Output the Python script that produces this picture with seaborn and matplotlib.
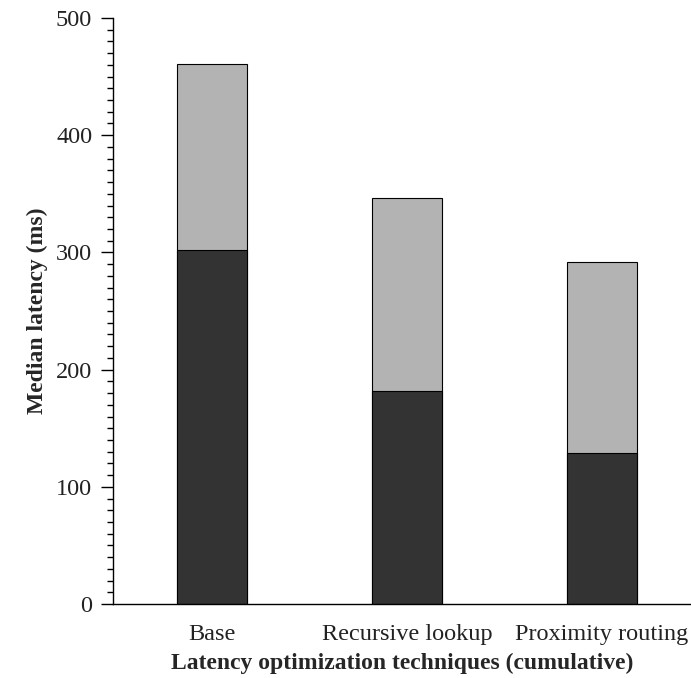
import matplotlib
matplotlib.use("Agg")
import matplotlib.pyplot as plt
from matplotlib.ticker import MultipleLocator
import seaborn as sns
import pandas as pd

categories = ["Base", "Recursive lookup", "Proximity routing"]
lower_values = [302, 182, 129]
total_values = [461, 346, 292]
y_ticks = [0, 100, 200, 300, 400, 500]

sns.set_theme(style="ticks")
plt.rcParams["font.family"] = ["Liberation Serif", "DejaVu Serif"]

df = pd.DataFrame({"technique": categories, "lower": lower_values, "total": total_values})

fig = plt.figure(figsize=(6.91, 6.78), dpi=100)
ax = fig.add_axes([0.1635, 0.109, 0.8365, 0.8645])

sns.barplot(data=df, x="technique", y="total", color="#b3b3b3", width=0.36,
            edgecolor="black", linewidth=0.8, saturation=1, ax=ax)
sns.barplot(data=df, x="technique", y="lower", color="#333333", width=0.36,
            edgecolor="black", linewidth=0.8, saturation=1, ax=ax)

ax.set_xlim(-0.508, 2.456)
ax.set_ylim(0, 500)
ax.set_yticks(y_ticks)
ax.yaxis.set_minor_locator(MultipleLocator(10))
ax.tick_params(axis="y", which="major", length=9, width=1, labelsize=17.5, pad=6, color="black")
ax.tick_params(axis="y", which="minor", length=4.5, width=1, color="black")
ax.tick_params(axis="x", length=0, labelsize=17.5, pad=14)
for lab in ax.get_yticklabels() + ax.get_xticklabels():
    lab.set_color("#222222")

sns.despine(ax=ax)
ax.spines["left"].set_linewidth(1)
ax.spines["bottom"].set_linewidth(1)
ax.spines["left"].set_color("black")
ax.spines["bottom"].set_color("black")

ax.set_ylabel("Median latency (ms)", fontsize=17, fontweight="bold", labelpad=6)
ax.set_xlabel("Latency optimization techniques (cumulative)", fontsize=17,
              fontweight="bold", labelpad=6)

fig.savefig("out.png", dpi=100)
